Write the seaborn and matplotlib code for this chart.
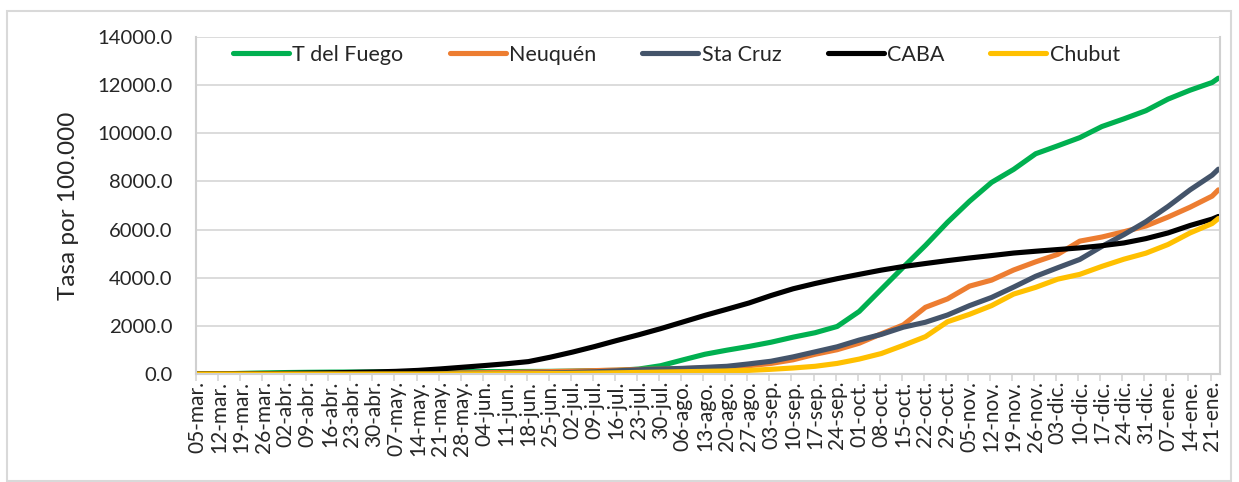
import matplotlib
matplotlib.use("Agg")
import matplotlib.pyplot as plt
from matplotlib.patches import Rectangle
import seaborn as sns
import pandas as pd
import numpy as np

# fechas semanales (05-mar a 21-ene) + ultimo dia con datos
fechas = list(pd.date_range("2020-03-05", "2021-01-21", freq="7D")) + [pd.Timestamp("2021-01-23")]

etiquetas = ["05-mar.", "12-mar.", "19-mar.", "26-mar.", "02-abr.", "09-abr.", "16-abr.",
             "23-abr.", "30-abr.", "07-may.", "14-may.", "21-may.", "28-may.", "04-jun.",
             "11-jun.", "18-jun.", "25-jun.", "02-jul.", "09-jul.", "16-jul.", "23-jul.",
             "30-jul.", "06-ago.", "13-ago.", "20-ago.", "27-ago.", "03-sep.", "10-sep.",
             "17-sep.", "24-sep.", "01-oct.", "08-oct.", "15-oct.", "22-oct.", "29-oct.",
             "05-nov.", "12-nov.", "19-nov.", "26-nov.", "03-dic.", "10-dic.", "17-dic.",
             "24-dic.", "31-dic.", "07-ene.", "14-ene.", "21-ene."]

# tasa acumulada por 100.000 hab.
tdf = [0, 5, 25, 45, 60, 70, 78, 82, 85, 88,
       90, 92, 95, 98, 100, 105, 110, 120, 140, 150,
       205, 345, 585, 820, 990, 1145, 1320, 1530, 1715, 1975,
       2600, 3520, 4440, 5340, 6300, 7175, 7960, 8500, 9150, 9480,
       9820, 10280, 10600, 10940, 11420, 11790, 12110, 12290]
neuquen = [0, 0, 1, 3, 8, 15, 22, 28, 32, 35,
           38, 42, 48, 55, 65, 80, 100, 120, 140, 165,
           190, 205, 225, 250, 280, 345, 440, 590, 820, 1010,
           1280, 1670, 2040, 2770, 3120, 3650, 3900, 4320, 4660, 4970,
           5520, 5690, 5910, 6150, 6520, 6930, 7390, 7650]
sta_cruz = [0, 0, 0, 1, 2, 3, 4, 5, 6, 7,
            8, 10, 12, 15, 20, 30, 45, 65, 90, 130,
            175, 205, 235, 275, 320, 420, 530, 710, 920, 1130,
            1410, 1645, 1945, 2150, 2450, 2840, 3180, 3610, 4060, 4415,
            4760, 5300, 5790, 6330, 6960, 7650, 8260, 8510]
caba = [0, 2, 8, 15, 25, 38, 50, 65, 85, 110,
        150, 210, 280, 350, 425, 515, 700, 910, 1140, 1390,
        1630, 1885, 2160, 2435, 2690, 2950, 3260, 3540, 3760, 3960,
        4140, 4315, 4465, 4590, 4710, 4820, 4920, 5025, 5100, 5170,
        5240, 5330, 5445, 5625, 5860, 6170, 6435, 6545]
chubut = [0, 0, 0, 0, 1, 1, 2, 2, 3, 3,
          4, 5, 6, 8, 10, 14, 20, 28, 38, 50,
          65, 80, 95, 110, 125, 150, 195, 250, 320, 440,
          620, 850, 1190, 1550, 2170, 2480, 2840, 3320, 3600, 3940,
          4140, 4470, 4770, 5020, 5380, 5860, 6250, 6460]

provincias = ["T del Fuego", "Neuquén", "Sta Cruz", "CABA", "Chubut"]
colores = ["#00B050", "#ED7D31", "#44546A", "#000000", "#FFC000"]

df = pd.DataFrame({"fecha": fechas, "T del Fuego": tdf, "Neuquén": neuquen,
                   "Sta Cruz": sta_cruz, "CABA": caba, "Chubut": chubut})
largo = df.melt(id_vars="fecha", var_name="provincia", value_name="tasa")

sns.set_style("white")
plt.rcParams["font.family"] = ["Lato", "DejaVu Sans"]

fig = plt.figure(figsize=(12.39, 4.82), dpi=100)
ax = fig.add_axes([196 / 1239, 1 - 374 / 482, 1024 / 1239, 337 / 482])

sns.lineplot(data=largo, x="fecha", y="tasa", hue="provincia", hue_order=provincias,
             palette=colores, linewidth=3.7, estimator=None, ax=ax)

# eje y
ax.set_ylim(0, 14000)
yt = np.arange(0, 14001, 2000)
ax.set_yticks(yt)
ax.set_yticklabels([f"{v:.1f}" for v in yt], fontsize=14.6)
ax.tick_params(axis="y", length=0, pad=17)
ax.grid(axis="y", color="#d9d9d9", linewidth=1.3)
ax.set_axisbelow(True)
ax.set_ylabel("Tasa por 100.000", fontsize=17.5, labelpad=13)

# eje x
medio_dia = pd.Timedelta(hours=12)
ax.set_xlim(fechas[0] - medio_dia, fechas[-1] + medio_dia)
ax.set_xticks(fechas[:len(etiquetas)])
ax.set_xticklabels(etiquetas, rotation=90, fontsize=15)
ax.set_xticks([f - medio_dia for f in fechas[:len(etiquetas)]], minor=True)
ax.tick_params(axis="x", which="major", length=0, pad=5)
ax.tick_params(axis="x", which="minor", length=5, width=1.3, color="#d9d9d9", bottom=True)
ax.set_xlabel("")

for lado in ["left", "right", "bottom"]:
    ax.spines[lado].set_color("#d0d0d0")
    ax.spines[lado].set_linewidth(1.5)
ax.spines["top"].set_visible(False)

handles, labels = ax.get_legend_handles_labels()
ax.legend(handles, labels, loc="center left", bbox_to_anchor=(37 / 1024, 0.947),
          ncol=5, frameon=False, fontsize=15.5, handlelength=2.6, handletextpad=0.15,
          columnspacing=2.15, borderpad=0, borderaxespad=0)

fig.patches.append(Rectangle((7 / 1239, 0.002), 1224 / 1239, 1 - 11 / 482 - 0.002,
                             transform=fig.transFigure, fill=False,
                             edgecolor="#d9d9d9", linewidth=1.5))

fig.savefig("out.png", dpi=100)
